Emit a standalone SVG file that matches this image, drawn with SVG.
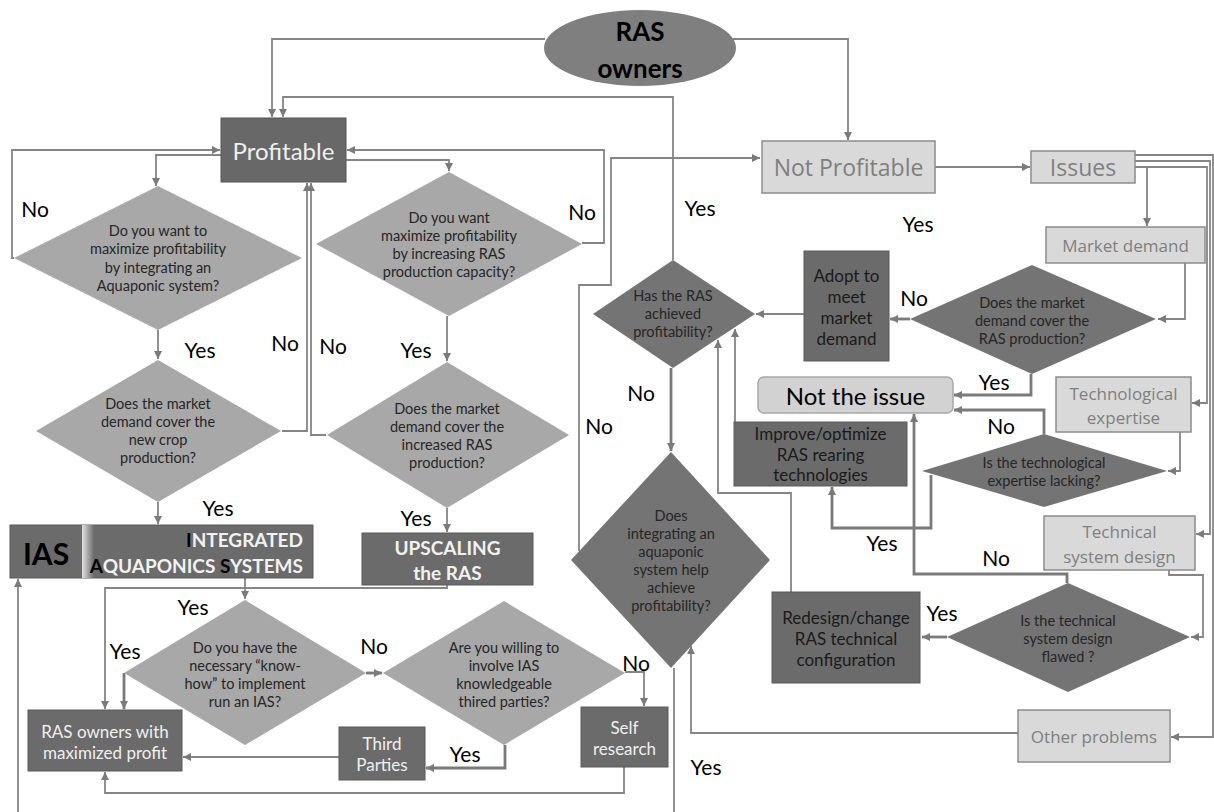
<svg xmlns="http://www.w3.org/2000/svg" width="1214" height="812" viewBox="0 0 1214 812">
<defs>
<marker id="ar" markerUnits="userSpaceOnUse" markerWidth="9" markerHeight="9" refX="8" refY="4" orient="auto"><path d="M0,0 L8,4 L0,8 z" fill="#7a7a7a"/></marker>
<linearGradient id="sep" x1="0" y1="0" x2="1" y2="0"><stop offset="0" stop-color="#e0e0e0"/><stop offset="1" stop-color="#6b6b6b"/></linearGradient>
<style>
.ln{fill:none;stroke:#858585;stroke-width:1.8}
.tk{stroke:#7a7a7a;stroke-width:2.8}
.dk{fill:#6b6b6b;stroke:#5a5a5a;stroke-width:1}
.dd{fill:#747474}
.ld{fill:#a8a8a8}
.lb{fill:#d9d9d9;stroke:#8c8c8c;stroke-width:1.5}
text{font-family:Lato,"Liberation Sans",sans-serif;dominant-baseline:central;text-anchor:middle}
.q{font-size:14.5px;fill:#262626}
.yn{font-size:21px;fill:#000}
.w{font-size:17px;fill:#f0f0f0}
.b{font-size:17px;fill:#1a1a1a}
.g{font-family:"Open Sans","Liberation Sans",sans-serif;fill:#7f7f7f}
.bw{font-weight:bold;font-size:19px;fill:#f2f2f2}
.bk{fill:#000}
</style>
</defs>
<rect width="1214" height="812" fill="#ffffff"/>

<g id="connectors">
<path class="ln" d="M545,39 H272 V117" marker-end="url(#ar)"/>
<path class="ln" d="M733,39 H848 V140" marker-end="url(#ar)"/>
<path class="ln" d="M673,260 V97 H283 V117" marker-end="url(#ar)"/>
<path class="ln" d="M221,155 H156 V186" marker-end="url(#ar)"/>
<path class="ln" d="M14,258 H12 V150 H220" marker-end="url(#ar)"/>
<path class="ln" d="M346,160 H449 V171" marker-end="url(#ar)"/>
<path class="ln" d="M582,243 H604 V150 H347" marker-end="url(#ar)"/>
<path class="ln" d="M158,330 V359" marker-end="url(#ar)"/>
<path class="ln" d="M282,431 H307 V183" marker-end="url(#ar)"/>
<path class="ln" d="M326,435 H311 V183" marker-end="url(#ar)"/>
<path class="ln" d="M447,316 V361" marker-end="url(#ar)"/>
<path class="ln" d="M158,502 V524" marker-end="url(#ar)"/>
<path class="ln" d="M447,508 V532" marker-end="url(#ar)"/>
<path class="ln" d="M245,578 V599" marker-end="url(#ar)"/>
<path class="ln" d="M447,585 V588 H105 V709" marker-end="url(#ar)"/>
<path class="ln tk" d="M124,673 V709" marker-end="url(#ar)"/>
<path class="ln tk" d="M366,673 H382" marker-end="url(#ar)"/>
<path class="ln" d="M625,672 H644 V706" marker-end="url(#ar)"/>
<path class="ln tk" d="M505,745 V768 H426" marker-end="url(#ar)"/>
<path class="ln" d="M339,757 H183" marker-end="url(#ar)"/>
<path class="ln" d="M624,767 V793 H105 V772" marker-end="url(#ar)"/>
<path class="ln" d="M674,668 V830 H18 V579" marker-end="url(#ar)"/>
<path class="ln" d="M579,551 V285 H611 V158 H760" marker-end="url(#ar)"/>
<path class="ln tk" d="M671,368 V451" marker-end="url(#ar)"/>
<path class="ln" d="M935,167 H1030" marker-end="url(#ar)"/>
<path class="ln" d="M1147,167 V226" marker-end="url(#ar)"/>
<path class="ln" d="M1185,263 V319 H1158" marker-end="url(#ar)"/>
<path class="ln" d="M804,314 H756" marker-end="url(#ar)"/>
<path class="ln tk" d="M910,319 H890" marker-end="url(#ar)"/>
<path class="ln tk" d="M1031,374 V395 H954" marker-end="url(#ar)"/>
<path class="ln" d="M1135,155 H1213 V737 H1171" marker-end="url(#ar)"/>
<path class="ln" d="M1135,161 H1210 V534 H1196" marker-end="url(#ar)"/>
<path class="ln" d="M1135,167 H1207 V403 H1192" marker-end="url(#ar)"/>
<path class="ln" d="M1180,432 V471 H1168" marker-end="url(#ar)"/>
<path class="ln tk" d="M1044,434 V410 H954" marker-end="url(#ar)"/>
<path class="ln tk" d="M931,475 V528 H832 V487" marker-end="url(#ar)"/>
<path class="ln" d="M735,422 V329" marker-end="url(#ar)"/>
<path class="ln" d="M791,592 V493 H718 V340" marker-end="url(#ar)"/>
<path class="ln" d="M1018,733 H691 V646" marker-end="url(#ar)"/>
<path class="ln" d="M1169,570 V575 H1203 V637 H1191" marker-end="url(#ar)"/>
<path class="ln tk" d="M1067,583 V574 H914 V414" marker-end="url(#ar)"/>
<path class="ln tk" d="M947,637 H922" marker-end="url(#ar)"/>
</g>

<g id="labels">
<text class="yn" x="35" y="208">No</text>
<text class="yn" x="582" y="211">No</text>
<text class="yn" x="200" y="349">Yes</text>
<text class="yn" x="285" y="342">No</text>
<text class="yn" x="333" y="345">No</text>
<text class="yn" x="416" y="349">Yes</text>
<text class="yn" x="218" y="507">Yes</text>
<text class="yn" x="416" y="517">Yes</text>
<text class="yn" x="193" y="606">Yes</text>
<text class="yn" x="125" y="650">Yes</text>
<text class="yn" x="374" y="645">No</text>
<text class="yn" x="636" y="662">No</text>
<text class="yn" x="465" y="753">Yes</text>
<text class="yn" x="706" y="766">Yes</text>
<text class="yn" x="700" y="207">Yes</text>
<text class="yn" x="918" y="223">Yes</text>
<text class="yn" x="914" y="297">No</text>
<text class="yn" x="641" y="392">No</text>
<text class="yn" x="599" y="425">No</text>
<text class="yn" x="994" y="381">Yes</text>
<text class="yn" x="1001" y="425">No</text>
<text class="yn" x="882" y="542">Yes</text>
<text class="yn" x="996" y="557">No</text>
<text class="yn" x="942" y="612">Yes</text>
</g>

<g id="ras-owners">
<ellipse cx="640" cy="48" rx="96" ry="38" fill="#7f7f7f"/>
<text x="640" y="31" font-weight="bold" font-size="26" fill="#000">RAS</text>
<text x="640" y="68" font-weight="bold" font-size="26" fill="#000">owners</text>
</g>

<g id="profitable">
<rect x="221" y="118" width="125" height="64" fill="#686868" stroke="#555" stroke-width="1"/>
<text x="283.5" y="150" font-size="24" fill="#f0f0f0">Profitable</text>
</g>

<g id="q-integrate">
<polygon class="ld" points="158,186 302,258 158,330 14,258"/>
<text class="q" x="158" y="230">Do you want to</text>
<text class="q" x="158" y="248">maximize profitability</text>
<text class="q" x="158" y="267">by integrating an</text>
<text class="q" x="158" y="285">Aquaponic system?</text>
</g>

<g id="q-capacity">
<polygon class="ld" points="449,172 582,244 449,316 316,244"/>
<text class="q" x="449" y="217">Do you want</text>
<text class="q" x="449" y="235">maximize profitability</text>
<text class="q" x="449" y="253">by increasing RAS</text>
<text class="q" x="449" y="271">production capacity?</text>
</g>

<g id="q-crop-demand">
<polygon class="ld" points="158,360 281,431 158,502 36,431"/>
<text class="q" x="158" y="403">Does the market</text>
<text class="q" x="158" y="421">demand cover the</text>
<text class="q" x="158" y="439">new crop</text>
<text class="q" x="158" y="457">production?</text>
</g>

<g id="q-ras-demand">
<polygon class="ld" points="447,362 569,435 447,508 327,435"/>
<text class="q" x="447" y="408">Does the market</text>
<text class="q" x="447" y="426">demand cover the</text>
<text class="q" x="447" y="444">increased RAS</text>
<text class="q" x="447" y="462">production?</text>
</g>

<g id="ias">
<rect x="10" y="525" width="303" height="53" fill="#6b6b6b" stroke="#5a5a5a" stroke-width="1"/>
<rect x="82" y="525" width="12" height="53" fill="url(#sep)"/>
<text x="46" y="553" font-weight="bold" font-size="30" fill="#000">IAS</text>
<text class="bw" x="303" y="539" style="text-anchor:end"><tspan class="bk">I</tspan>NTEGRATED</text>
<text class="bw" x="303" y="565" style="text-anchor:end"><tspan class="bk">A</tspan>QUAPONICS <tspan class="bk">S</tspan>YSTEMS</text>
</g>

<g id="upscaling">
<rect x="362" y="533" width="171" height="52" fill="#6b6b6b" stroke="#5a5a5a" stroke-width="1"/>
<text class="bw" x="447.5" y="547">UPSCALING</text>
<text class="bw" x="447.5" y="572">the RAS</text>
</g>

<g id="q-knowhow">
<polygon class="ld" points="245,600 366,673 245,745 124,673"/>
<text class="q" x="245" y="647">Do you have the</text>
<text class="q" x="245" y="665">necessary “know-</text>
<text class="q" x="245" y="683">how” to implement</text>
<text class="q" x="245" y="701">run an IAS?</text>
</g>

<g id="q-third">
<polygon class="ld" points="504,601 625,673 504,745 383,673"/>
<text class="q" x="504" y="647">Are you willing to</text>
<text class="q" x="504" y="665">involve IAS</text>
<text class="q" x="504" y="683">knowledgeable</text>
<text class="q" x="504" y="701">thired parties?</text>
</g>

<g id="ras-max">
<rect class="dk" x="28" y="710" width="154" height="61"/>
<text class="w" x="105" y="731">RAS owners with</text>
<text class="w" x="105" y="752">maximized profit</text>
</g>

<g id="third-parties">
<rect class="dk" x="339" y="727" width="86" height="53"/>
<text class="w" x="382" y="743">Third</text>
<text class="w" x="382" y="764">Parties</text>
</g>

<g id="self-research">
<rect class="dk" x="581" y="707" width="87" height="60"/>
<text class="w" x="624.5" y="727">Self</text>
<text class="w" x="624.5" y="748">research</text>
</g>

<g id="q-achieved">
<polygon class="dd" points="673,260 755,314 673,368 593,314"/>
<text class="q" x="673" y="295">Has the RAS</text>
<text class="q" x="673" y="313">achieved</text>
<text class="q" x="673" y="331">profitability?</text>
</g>

<g id="q-aquaponic-help">
<polygon class="dd" points="671,452 770,560 671,668 571,560"/>
<text class="q" x="671" y="515">Does</text>
<text class="q" x="671" y="533">integrating an</text>
<text class="q" x="671" y="551">aquaponic</text>
<text class="q" x="671" y="569">system help</text>
<text class="q" x="671" y="587">achieve</text>
<text class="q" x="671" y="605">profitability?</text>
</g>

<g id="not-profitable">
<rect class="lb" x="762" y="141" width="173" height="52"/>
<text class="g" x="848.5" y="167" font-size="23">Not Profitable</text>
</g>

<g id="issues">
<rect class="lb" x="1031" y="151" width="104" height="32"/>
<text class="g" x="1083" y="167" font-size="23">Issues</text>
</g>

<g id="market-demand">
<rect class="lb" x="1046" y="227" width="159" height="36"/>
<text class="g" x="1125.5" y="245" font-size="17">Market demand</text>
</g>

<g id="q-market">
<polygon class="dd" points="1032,265 1156,319 1032,374 910,319"/>
<text class="q" x="1032" y="302">Does the market</text>
<text class="q" x="1032" y="320">demand cover the</text>
<text class="q" x="1032" y="338">RAS production?</text>
</g>

<g id="adopt">
<rect class="dk" x="804" y="251" width="85" height="110"/>
<text class="b" x="846.5" y="275">Adopt to</text>
<text class="b" x="846.5" y="296">meet</text>
<text class="b" x="846.5" y="317">market</text>
<text class="b" x="846.5" y="338">demand</text>
</g>

<g id="not-the-issue">
<rect x="758" y="377" width="195" height="36" rx="6" fill="#d2d2d2" stroke="#a8a8a8" stroke-width="1.5"/>
<text x="855.5" y="395" font-size="24" fill="#000">Not the issue</text>
</g>

<g id="improve">
<rect class="dk" x="734" y="422" width="173" height="64"/>
<text class="b" x="820.5" y="433">Improve/optimize</text>
<text class="b" x="820.5" y="454">RAS rearing</text>
<text class="b" x="820.5" y="474">technologies</text>
</g>

<g id="tech-expertise">
<rect class="lb" x="1056" y="377" width="135" height="55"/>
<text class="g" x="1123.5" y="393" font-size="17">Technological</text>
<text class="g" x="1123.5" y="417" font-size="17">expertise</text>
</g>

<g id="q-expertise">
<polygon class="dd" points="1044,434 1167,471 1044,507 922,471"/>
<text class="q" x="1044" y="462">Is the technological</text>
<text class="q" x="1044" y="480">expertise lacking?</text>
</g>

<g id="tech-design">
<rect class="lb" x="1044" y="516" width="151" height="54"/>
<text class="g" x="1119.5" y="531" font-size="17">Technical</text>
<text class="g" x="1119.5" y="556" font-size="17">system design</text>
</g>

<g id="q-flawed">
<polygon class="dd" points="1068,583 1190,637 1068,692 947,637"/>
<text class="q" x="1068" y="620">Is the technical</text>
<text class="q" x="1068" y="638">system design</text>
<text class="q" x="1068" y="656">flawed ?</text>
</g>

<g id="redesign">
<rect class="dk" x="772" y="592" width="148" height="91"/>
<text class="b" x="846" y="617">Redesign/change</text>
<text class="b" x="846" y="638">RAS technical</text>
<text class="b" x="846" y="659">configuration</text>
</g>

<g id="other-problems">
<rect class="lb" x="1018" y="710" width="152" height="52"/>
<text class="g" x="1094" y="736" font-size="17">Other problems</text>
</g>
</svg>
